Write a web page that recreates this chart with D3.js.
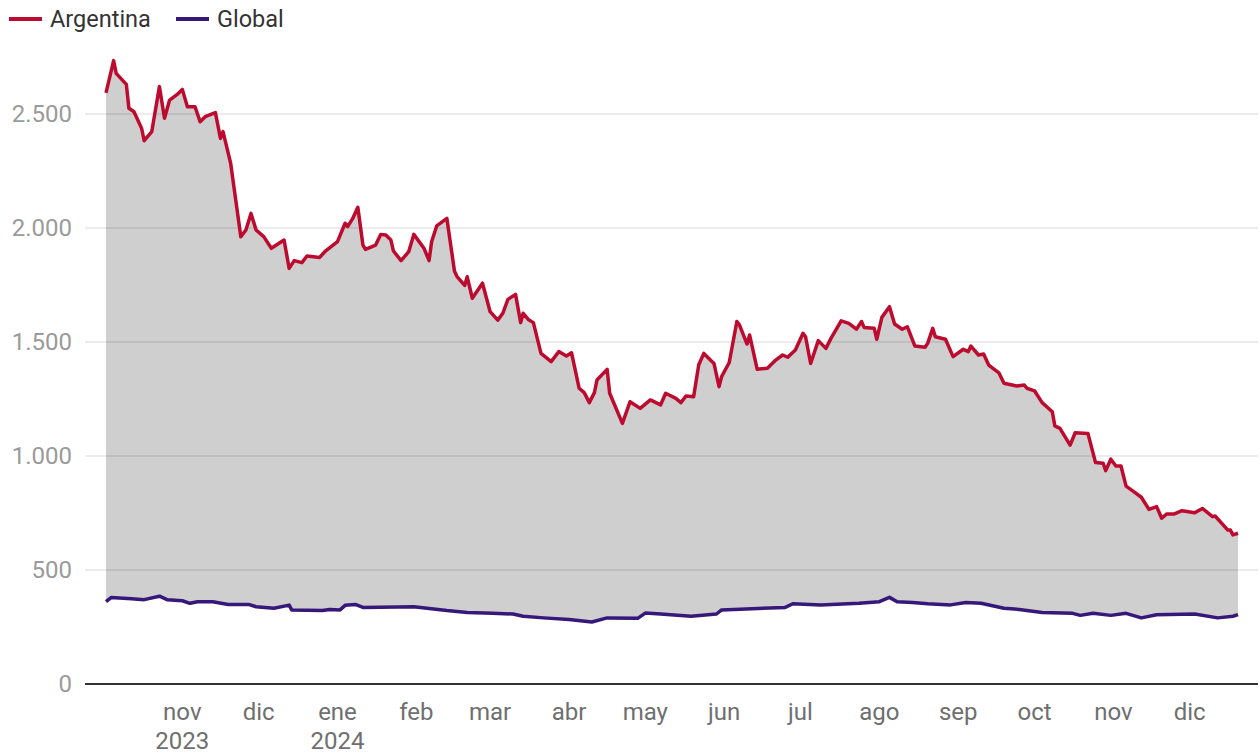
<!DOCTYPE html>
<html>
<head>
<meta charset="utf-8">
<script src="https://cdn.jsdelivr.net/npm/d3@7"></script>
<style>
  body { margin: 0; background: #fff; font-family: Roboto, "Noto Sans", sans-serif; }
</style>
</head>
<body>
<div id="chart"></div>
<script>
// riesgo pais, puntos basicos
var argDates = ["2023-10-02","2023-10-05","2023-10-06","2023-10-10","2023-10-11","2023-10-13","2023-10-16","2023-10-17","2023-10-20","2023-10-23",
  "2023-10-25","2023-10-27","2023-10-30","2023-11-01","2023-11-03","2023-11-06","2023-11-08","2023-11-10","2023-11-14","2023-11-16",
  "2023-11-17","2023-11-20","2023-11-22","2023-11-24","2023-11-26","2023-11-28","2023-11-30","2023-12-03","2023-12-06","2023-12-11",
  "2023-12-13","2023-12-15","2023-12-18","2023-12-20","2023-12-25","2023-12-27","2024-01-01","2024-01-04","2024-01-05","2024-01-07",
  "2024-01-09","2024-01-11","2024-01-12","2024-01-16","2024-01-18","2024-01-20","2024-01-22","2024-01-23","2024-01-26","2024-01-29",
  "2024-01-31","2024-02-04","2024-02-06","2024-02-07","2024-02-09","2024-02-13","2024-02-16","2024-02-17","2024-02-20","2024-02-21",
  "2024-02-23","2024-02-27","2024-03-01","2024-03-04","2024-03-06","2024-03-08","2024-03-11","2024-03-13","2024-03-14","2024-03-16",
  "2024-03-18","2024-03-21","2024-03-25","2024-03-28","2024-03-31","2024-04-02","2024-04-05","2024-04-07","2024-04-09","2024-04-11",
  "2024-04-12","2024-04-16","2024-04-17","2024-04-22","2024-04-25","2024-04-29","2024-05-03","2024-05-07","2024-05-09","2024-05-13",
  "2024-05-15","2024-05-17","2024-05-20","2024-05-22","2024-05-24","2024-05-28","2024-05-30","2024-05-31","2024-06-03","2024-06-06",
  "2024-06-07","2024-06-10","2024-06-11","2024-06-14","2024-06-18","2024-06-21","2024-06-24","2024-06-26","2024-06-29","2024-07-02",
  "2024-07-03","2024-07-05","2024-07-08","2024-07-11","2024-07-13","2024-07-17","2024-07-20","2024-07-23","2024-07-25","2024-07-26",
  "2024-07-30","2024-07-31","2024-08-02","2024-08-05","2024-08-07","2024-08-10","2024-08-12","2024-08-15","2024-08-19","2024-08-20",
  "2024-08-22","2024-08-23","2024-08-27","2024-08-30","2024-09-03","2024-09-05","2024-09-06","2024-09-09","2024-09-11","2024-09-13",
  "2024-09-17","2024-09-19","2024-09-24","2024-09-27","2024-09-28","2024-10-01","2024-10-04","2024-10-08","2024-10-09","2024-10-11",
  "2024-10-15","2024-10-17","2024-10-22","2024-10-25","2024-10-28","2024-10-29","2024-10-31","2024-11-02","2024-11-04","2024-11-06",
  "2024-11-09","2024-11-12","2024-11-15","2024-11-18","2024-11-20","2024-11-22","2024-11-25","2024-11-28","2024-12-03","2024-12-06",
  "2024-12-10","2024-12-11","2024-12-16","2024-12-17","2024-12-18","2024-12-20"];
var argValues = [2593,2734,2678,2630,2525,2510,2437,2383,2423,2620,
  2481,2561,2586,2608,2532,2532,2466,2488,2506,2393,
  2423,2284,2123,1962,1991,2064,1991,1962,1911,1947,
  1823,1857,1848,1877,1871,1896,1940,2021,2006,2042,
  2091,1925,1906,1925,1972,1969,1947,1899,1857,1896,
  1972,1911,1857,1940,2009,2042,1810,1787,1748,1786,
  1692,1758,1633,1596,1626,1687,1709,1585,1626,1599,
  1585,1450,1414,1458,1439,1453,1297,1278,1234,1278,
  1333,1380,1275,1143,1238,1209,1246,1224,1275,1253,
  1234,1263,1260,1399,1450,1406,1304,1348,1410,1590,
  1575,1491,1531,1380,1385,1418,1443,1433,1465,1538,
  1523,1406,1506,1472,1516,1593,1582,1556,1590,1564,
  1560,1512,1608,1655,1579,1556,1567,1482,1477,1494,
  1560,1523,1512,1436,1468,1458,1482,1443,1447,1399,
  1365,1319,1307,1311,1297,1286,1234,1194,1132,1121,
  1048,1102,1099,971,968,936,986,956,956,868,
  844,819,766,778,727,746,746,760,751,770,
  734,737,675,675,654,661];

var globalDates = ["2023-10-02","2023-10-04","2023-10-12","2023-10-17","2023-10-23","2023-10-26","2023-11-01","2023-11-04","2023-11-07","2023-11-13",
  "2023-11-19","2023-11-27","2023-11-30","2023-12-07","2023-12-13","2023-12-14","2023-12-26","2023-12-29","2024-01-02","2024-01-04",
  "2024-01-08","2024-01-11","2024-01-31","2024-02-13","2024-02-21","2024-03-02","2024-03-10","2024-03-14","2024-03-22","2024-04-01",
  "2024-04-10","2024-04-16","2024-04-28","2024-05-01","2024-05-07","2024-05-19","2024-05-29","2024-05-31","2024-06-12","2024-06-25",
  "2024-06-28","2024-07-09","2024-07-24","2024-08-01","2024-08-05","2024-08-08","2024-08-14","2024-08-20","2024-08-29","2024-09-04",
  "2024-09-10","2024-09-19","2024-09-25","2024-10-04","2024-10-16","2024-10-19","2024-10-24","2024-10-31","2024-11-06","2024-11-12",
  "2024-11-18","2024-12-03","2024-12-12","2024-12-18","2024-12-20"];
var globalValues = [361,379,374,370,385,370,365,354,361,361,
  349,349,339,332,346,325,322,327,325,345,
  349,336,339,322,314,310,307,297,290,283,
  272,290,288,311,307,297,307,325,330,336,
  352,347,354,361,380,361,357,352,347,357,
  354,332,327,314,310,301,310,301,310,290,
  304,307,290,297,304];

var yTicks = [0, 500, 1000, 1500, 2000, 2500];
var monthNames = ["ene","feb","mar","abr","may","jun","jul","ago","sep","oct","nov","dic"];
var seriesNames = ["Argentina", "Global"];
var seriesColors = ["#bd0a2f", "#35187a"];

var parse = d3.timeParse("%Y-%m-%d");
var arg = argDates.map(function (d, i) { return { date: parse(d), value: argValues[i] }; });
var glob = globalDates.map(function (d, i) { return { date: parse(d), value: globalValues[i] }; });

var width = 1260, height = 755;
var left = 85, right = 1258;

var svg = d3.select("#chart").append("svg")
  .attr("width", width)
  .attr("height", height);

var x = d3.scaleTime()
  .domain([parse("2023-10-02"), parse("2024-12-20")])
  .range([106, 1238]);

var y = d3.scaleLinear()
  .domain([0, 2500])
  .range([684, 114]);

var loc = d3.formatLocale({ decimal: ",", thousands: ".", grouping: [3], currency: ["$", ""] });
var fmt = loc.format(",");

// grey band: fill down to 0 for Argentina, then white out below Global
svg.append("path")
  .datum(arg)
  .attr("fill", "#cfcfcf")
  .attr("d", d3.area()
    .x(function (d) { return x(d.date); })
    .y0(y(0))
    .y1(function (d) { return y(d.value); }));

svg.append("path")
  .datum(glob)
  .attr("fill", "#fff")
  .attr("d", d3.area()
    .x(function (d) { return x(d.date); })
    .y0(y(0) + 1)
    .y1(function (d) { return y(d.value); }));

// gridlines
svg.append("g")
  .selectAll("line")
  .data(yTicks.filter(function (t) { return t > 0; }))
  .join("line")
  .attr("x1", left)
  .attr("x2", right)
  .attr("y1", function (d) { return y(d); })
  .attr("y2", function (d) { return y(d); })
  .attr("stroke", "rgba(0,0,0,0.1)")
  .attr("stroke-width", 1.5);

svg.append("g")
  .selectAll("text")
  .data(yTicks)
  .join("text")
  .attr("x", 72)
  .attr("y", function (d) { return y(d); })
  .attr("dy", "0.35em")
  .attr("text-anchor", "end")
  .attr("fill", "#9a9a9a")
  .attr("font-size", 24)
  .text(function (d) { return fmt(d); });

// lines
var line = d3.line()
  .x(function (d) { return x(d.date); })
  .y(function (d) { return y(d.value); });

svg.append("path")
  .datum(glob)
  .attr("fill", "none")
  .attr("stroke", seriesColors[1])
  .attr("stroke-width", 3.5)
  .attr("stroke-linejoin", "round")
  .attr("d", line);

svg.append("path")
  .datum(arg)
  .attr("fill", "none")
  .attr("stroke", seriesColors[0])
  .attr("stroke-width", 3.5)
  .attr("stroke-linejoin", "round")
  .attr("d", line);

// x axis
svg.append("line")
  .attr("x1", left)
  .attr("x2", right)
  .attr("y1", y(0))
  .attr("y2", y(0))
  .attr("stroke", "#333")
  .attr("stroke-width", 2);

var months = d3.timeMonth.range(parse("2023-11-01"), parse("2024-12-02"));
var xl = svg.append("g")
  .selectAll("text")
  .data(months)
  .join("text")
  .attr("x", function (d) { return x(d); })
  .attr("y", 720)
  .attr("text-anchor", "middle")
  .attr("fill", "#6f6f6f")
  .attr("font-size", 24);
xl.append("tspan")
  .text(function (d) { return monthNames[d.getMonth()]; });
xl.filter(function (d, i) { return i === 0 || d.getMonth() === 0; })
  .append("tspan")
  .attr("x", function (d) { return x(d); })
  .attr("dy", 29)
  .text(function (d) { return d.getFullYear(); });

// legend
var legend = svg.append("g")
  .selectAll("g")
  .data(seriesNames)
  .join("g")
  .attr("transform", function (d, i) { return "translate(" + (i === 0 ? 9 : 176) + ",19)"; });
legend.append("line")
  .attr("x1", 0).attr("x2", 33)
  .attr("stroke", function (d, i) { return seriesColors[i]; })
  .attr("stroke-width", 4);
legend.append("text")
  .attr("x", 41)
  .attr("dy", "0.35em")
  .attr("fill", "#333")
  .attr("font-size", 23.5)
  .text(function (d) { return d; });
</script>
</body>
</html>
